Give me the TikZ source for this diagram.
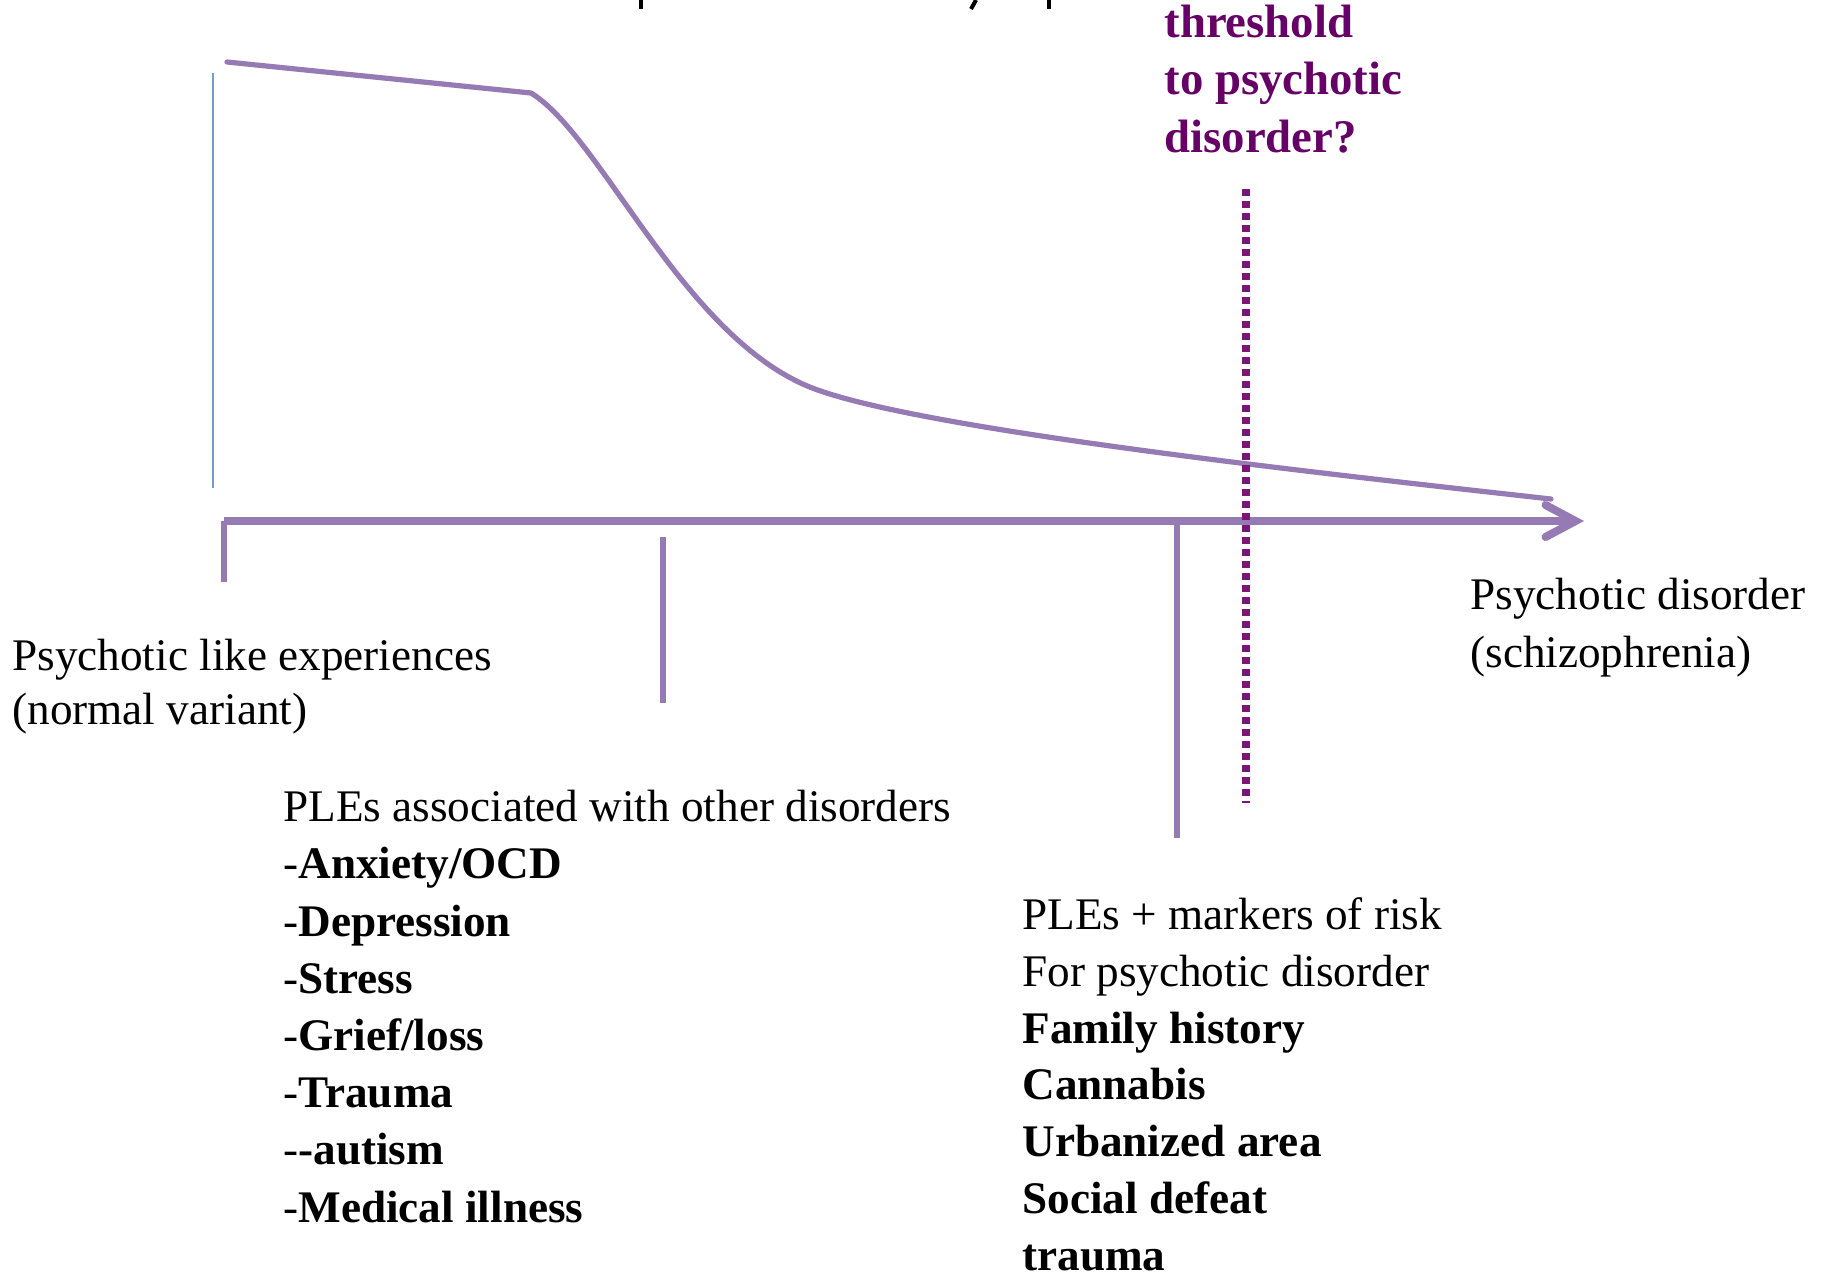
\documentclass[tikz,border=0pt]{standalone}
\usepackage{fontspec}
\setmainfont{Liberation Serif}
\usepackage{tikz}
\usetikzlibrary{arrows.meta}

\definecolor{curvepurple}{RGB}{149,122,180}
\definecolor{threshpurple}{RGB}{122,22,120}
\definecolor{threshtext}{RGB}{102,0,102}
\definecolor{edgeblue}{RGB}{110,160,215}

\begin{document}
\begin{tikzpicture}[
    x=0.5pt, y=-0.5pt,
    curve/.style={draw=curvepurple, line width=2.6pt, line join=round, line cap=round},
    axisline/.style={draw=curvepurple, line width=4pt,
      -{Straight Barb[length=15pt, width=16pt, line cap=round]}},
    tick/.style={draw=curvepurple, line width=2.7pt},
    cutoff/.style={draw=threshpurple, line width=3.6pt, dash pattern=on 3.5pt off 2.5pt},
    label/.style={anchor=base west, inner sep=0pt, align=left,
      font=\fontsize{22.6}{28.6}\selectfont},
    question/.style={label, text=threshtext, font=\fontsize{23.4}{28.75}\selectfont\bfseries}
]
  \useasboundingbox (0,0) rectangle (1829,1276);

  % descenders of the clipped title
  \draw[line width=2pt] (641,0) -- (641,9);
  \draw[line width=2pt] (976,0) -- (971,9);
  \draw[line width=2pt] (1049,0) -- (1049,9);

  % thin left edge
  \coordinate (edge top) at (213,73);
  \coordinate (edge bot) at (213,488);
  \draw[edgeblue, line width=0.8pt] (edge top) -- (edge bot);

  % frequency curve
  \draw[curve] (227,62) -- (531,93)
    .. controls (600,135) and (680,330) .. (805,385)
    .. controls (900,427) and (1300,471) .. (1551,499);

  % continuum axis and its ticks
  \coordinate (axis start) at (224,521);
  \coordinate (axis end) at (1584,521);
  \coordinate (tick0) at (224,582);
  \draw[axisline] (axis start) -- (axis end);
  \draw[tick] (axis start) -- (tick0);
  \foreach \x/\ya/\yb [count=\k] in {663/537/703, 1177/521/838} {
    \coordinate (tick\k a) at (\x,\ya);
    \coordinate (tick\k b) at (\x,\yb);
    \draw[tick] (tick\k a) -- (tick\k b);
  }

  % threshold line
  \coordinate (cut top) at (1246,189);
  \coordinate (cut bot) at (1246,803);
  \draw[cutoff] (cut top) -- (cut bot);

  % nodes sit on the baseline of their last line
  \node[question] (threshold) at (1164,152)
    {threshold\\to psychotic\\disorder?};

  \node[label, font=\fontsize{22.6}{27}\selectfont] (normal) at (12,724)
    {Psychotic like experiences\\(normal variant)};
  \node[label] (schizo) at (1470,667)
    {Psychotic disorder\\(schizophrenia)};
  \node[label] (other) at (283,1222)
    {PLEs associated with other disorders\\
     -\textbf{Anxiety/OCD}\\
     -\textbf{Depression}\\
     -\textbf{Stress}\\
     -\textbf{Grief/loss}\\
     -\textbf{Trauma}\\
     -\textbf{-autism}\\
     -\textbf{Medical illness}};
  \node[label, font=\fontsize{22.6}{28.35}\selectfont] (risk) at (1022,1270)
    {PLEs + markers of risk\\
     For psychotic disorder\\
     \textbf{Family history}\\
     \textbf{Cannabis}\\
     \textbf{Urbanized area}\\
     \textbf{Social defeat}\\
     \textbf{trauma}};
\end{tikzpicture}
\end{document}
